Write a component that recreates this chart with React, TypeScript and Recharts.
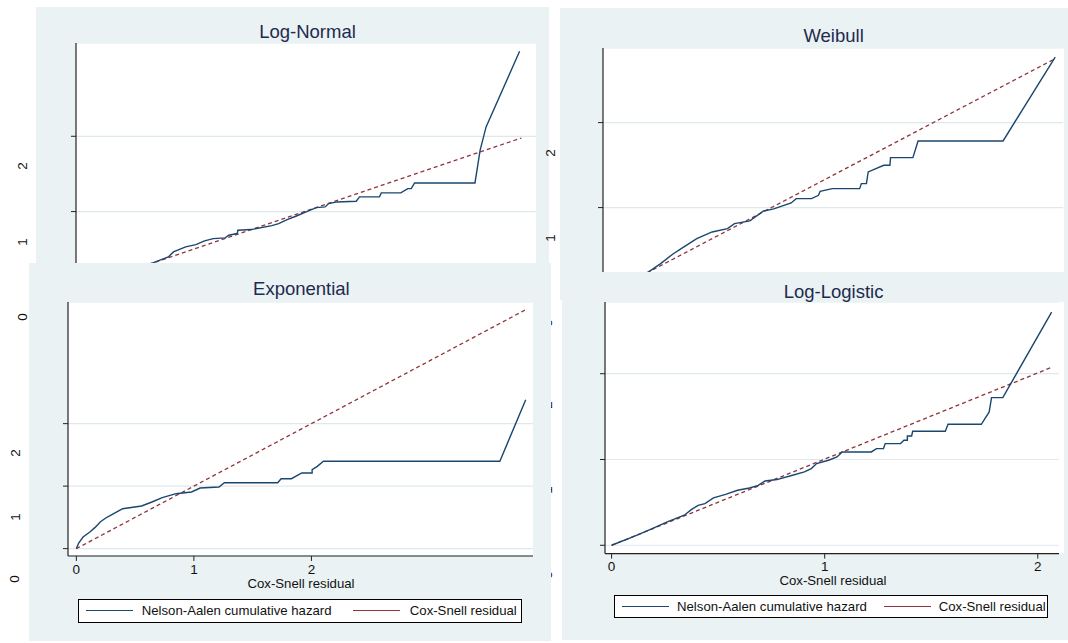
import { LineChart, Line, XAxis, YAxis, CartesianGrid } from "recharts";

const FONT = '"Liberation Sans", Arial, Helvetica, sans-serif';
const BG = "#eaf2f3";
const NAVY = "#1a476f";
const MAROON = "#90353b";
const GRID = "#dfe9ec";
const TITLE = "#1e2a4f";

const axisTicks = [0, 1, 2];
const legendNames = ["Nelson-Aalen cumulative hazard", "Cox-Snell residual"];
const xAxisTitle = "Cox-Snell residual";
const panelTitles = ["Log-Normal", "Weibull", "Exponential", "Log-Logistic"];

// stray rotated y labels left over in the collage
const logNormalYLabels = ["2", "1"];
const weibullYLabels = ["2", "1"];
const logLogisticYLabels = ["0", "2", "1", "0"];
const exponentialYLabels = ["0", "2", "1", "0"];

// Log-Normal: Nelson-Aalen cumulative hazard vs Cox-Snell residual
const logNormalHazard = [
  { x: 0, y: 0 }, { x: 0.1, y: 0.12 }, { x: 0.2, y: 0.22 }, { x: 0.317, y: 0.318 },
  { x: 0.387, y: 0.398 }, { x: 0.41, y: 0.464 }, { x: 0.465, y: 0.531 }, { x: 0.511, y: 0.561 },
  { x: 0.55, y: 0.61 }, { x: 0.589, y: 0.641 }, { x: 0.643, y: 0.65 }, { x: 0.659, y: 0.686 },
  { x: 0.697, y: 0.708 }, { x: 0.7, y: 0.752 }, { x: 0.76, y: 0.761 }, { x: 0.853, y: 0.814 },
  { x: 0.884, y: 0.84 }, { x: 0.922, y: 0.893 }, { x: 0.961, y: 0.938 }, { x: 1.023, y: 1.017 },
  { x: 1.054, y: 1.053 }, { x: 1.093, y: 1.062 }, { x: 1.109, y: 1.106 }, { x: 1.147, y: 1.128 },
  { x: 1.233, y: 1.137 }, { x: 1.248, y: 1.195 }, { x: 1.338, y: 1.195 }, { x: 1.346, y: 1.248 },
  { x: 1.434, y: 1.248 }, { x: 1.465, y: 1.305 }, { x: 1.481, y: 1.305 }, { x: 1.496, y: 1.38 },
  { x: 1.768, y: 1.38 }, { x: 1.791, y: 1.814 }, { x: 1.818, y: 2.124 }, { x: 1.969, y: 3.129 },
];
const logNormalResidual = [{ x: 0, y: 0 }, { x: 1.977, y: 1.977 }];

// Weibull
const weibullHazard = [
  { x: 0, y: 0 }, { x: 0.12, y: 0.13 }, { x: 0.242, y: 0.243 }, { x: 0.316, y: 0.341 },
  { x: 0.39, y: 0.451 }, { x: 0.443, y: 0.517 }, { x: 0.539, y: 0.635 }, { x: 0.634, y: 0.713 },
  { x: 0.729, y: 0.752 }, { x: 0.772, y: 0.811 }, { x: 0.867, y: 0.843 }, { x: 0.952, y: 0.96 },
  { x: 1.015, y: 0.984 }, { x: 1.122, y: 1.054 }, { x: 1.153, y: 1.105 }, { x: 1.248, y: 1.105 },
  { x: 1.291, y: 1.145 }, { x: 1.301, y: 1.192 }, { x: 1.376, y: 1.223 }, { x: 1.545, y: 1.223 },
  { x: 1.556, y: 1.282 }, { x: 1.587, y: 1.282 }, { x: 1.598, y: 1.419 }, { x: 1.694, y: 1.498 },
  { x: 1.732, y: 1.498 }, { x: 1.736, y: 1.588 }, { x: 1.874, y: 1.588 }, { x: 1.906, y: 1.784 },
  { x: 2.431, y: 1.784 }, { x: 2.753, y: 2.772 },
];
const weibullResidual = [{ x: 0, y: 0 }, { x: 2.753, y: 2.753 }];

// Exponential
const exponentialHazard = [
  { x: 0, y: 0 }, { x: 0.02, y: 0.09 }, { x: 0.057, y: 0.186 }, { x: 0.115, y: 0.266 },
  { x: 0.16, y: 0.34 }, { x: 0.203, y: 0.426 }, { x: 0.25, y: 0.49 }, { x: 0.291, y: 0.533 },
  { x: 0.379, y: 0.623 }, { x: 0.394, y: 0.639 }, { x: 0.555, y: 0.682 },
  { x: 0.643, y: 0.746 }, { x: 0.731, y: 0.815 }, { x: 0.848, y: 0.879 }, { x: 0.98, y: 0.906 },
  { x: 1.053, y: 0.97 }, { x: 1.214, y: 0.986 }, { x: 1.259, y: 1.055 }, { x: 1.713, y: 1.055 },
  { x: 1.742, y: 1.119 }, { x: 1.83, y: 1.119 }, { x: 1.918, y: 1.21 }, { x: 2.006, y: 1.21 },
  { x: 2.006, y: 1.263 }, { x: 2.05, y: 1.317 }, { x: 2.102, y: 1.397 }, { x: 3.603, y: 1.397 },
  { x: 3.823, y: 2.383 },
];
const exponentialResidual = [{ x: 0, y: 0 }, { x: 3.823, y: 3.823 }];

// Log-Logistic
const logLogisticHazard = [
  { x: 0, y: 0 }, { x: 0.1, y: 0.097 }, { x: 0.18, y: 0.183 }, { x: 0.261, y: 0.272 },
  { x: 0.341, y: 0.35 }, { x: 0.374, y: 0.416 }, { x: 0.406, y: 0.466 }, { x: 0.438, y: 0.486 },
  { x: 0.478, y: 0.552 }, { x: 0.535, y: 0.594 }, { x: 0.591, y: 0.641 }, { x: 0.647, y: 0.668 },
  { x: 0.688, y: 0.699 }, { x: 0.72, y: 0.75 }, { x: 0.776, y: 0.766 }, { x: 0.849, y: 0.816 },
  { x: 0.905, y: 0.855 }, { x: 0.937, y: 0.894 }, { x: 0.962, y: 0.952 }, { x: 1.018, y: 0.991 },
  { x: 1.058, y: 1.029 }, { x: 1.082, y: 1.088 }, { x: 1.219, y: 1.088 }, { x: 1.243, y: 1.127 },
  { x: 1.276, y: 1.127 }, { x: 1.284, y: 1.185 }, { x: 1.356, y: 1.185 }, { x: 1.372, y: 1.224 },
  { x: 1.388, y: 1.224 }, { x: 1.388, y: 1.274 }, { x: 1.408, y: 1.274 }, { x: 1.413, y: 1.329 },
  { x: 1.566, y: 1.329 }, { x: 1.579, y: 1.41 }, { x: 1.735, y: 1.41 }, { x: 1.772, y: 1.554 },
  { x: 1.783, y: 1.721 }, { x: 1.836, y: 1.721 }, { x: 2.065, y: 2.719 },
];
const logLogisticResidual = [{ x: 0, y: 0 }, { x: 2.062, y: 2.071 }];

type Pt = { x: number; y: number };
type Box = { l: number; t: number; r: number; b: number };

const Y_AXIS_W = 6;
const X_AXIS_H = 30;

function abs(l: number, t: number, w: number, h: number, extra: object = {}) {
  return { position: "absolute" as const, left: l, top: t, width: w, height: h, ...extra };
}

function Plot(props: {
  plot: Box;
  xDomain: [number, number];
  yDomain: [number, number];
  hazard: Pt[];
  residual: Pt[];
  showX: boolean;
}) {
  const { plot, xDomain, yDomain, hazard, residual, showX } = props;
  const w = plot.r - plot.l;
  const h = plot.b - plot.t;
  return (
    <div style={{ position: "absolute", left: plot.l - Y_AXIS_W, top: plot.t }}>
      <LineChart
        width={w + Y_AXIS_W}
        height={h + (showX ? X_AXIS_H : 0)}
        margin={{ top: 0, right: 0, bottom: 0, left: 0 }}
      >
        <CartesianGrid vertical={false} stroke={GRID} strokeWidth={1.2} />
        <XAxis
          type="number"
          dataKey="x"
          domain={xDomain}
          ticks={axisTicks}
          interval={0}
          allowDataOverflow
          hide={!showX}
          height={showX ? X_AXIS_H : 0}
          axisLine={{ stroke: "#222", strokeWidth: 1.2 }}
          tickLine={{ stroke: "#222" }}
          tickSize={5}
          tickMargin={3}
          tick={{ fill: "#111", fontSize: 13.5, fontFamily: FONT }}
        />
        <YAxis
          type="number"
          dataKey="y"
          domain={yDomain}
          ticks={axisTicks}
          interval={0}
          allowDataOverflow
          width={Y_AXIS_W}
          axisLine={{ stroke: "#222", strokeWidth: 1.2 }}
          tickLine={{ stroke: "#222" }}
          tickSize={5}
          tickFormatter={() => ""}
        />
        <Line
          data={residual}
          dataKey="y"
          type="linear"
          stroke={MAROON}
          strokeWidth={1.3}
          strokeDasharray="4 3"
          dot={false}
          isAnimationActive={false}
        />
        <Line
          data={hazard}
          dataKey="y"
          type="linear"
          stroke={NAVY}
          strokeWidth={1.4}
          dot={false}
          isAnimationActive={false}
        />
      </LineChart>
    </div>
  );
}

function Panel(props: {
  title: string;
  titleAt: [number, number];
  bg: Box;
  white: Box;
  plot: Box;
  xDomain: [number, number];
  yDomain: [number, number];
  hazard: Pt[];
  residual: Pt[];
  showX?: boolean;
  xTitleAt?: [number, number];
  legend?: { box: Box; s1: number; t1: number; s2: number; t2: number };
}) {
  const { title, titleAt, bg, white, legend, xTitleAt } = props;
  return (
    <>
      <div style={abs(bg.l, bg.t, bg.r - bg.l, bg.b - bg.t, { background: BG })} />
      <div
        style={abs(titleAt[0] - 150, titleAt[1] - 11, 300, 22, {
          textAlign: "center",
          lineHeight: "22px",
          fontSize: 18.5,
          fontFamily: FONT,
          color: TITLE,
        })}
      >
        {title}
      </div>
      <div style={abs(white.l, white.t, white.r - white.l, white.b - white.t, { background: "#fff" })} />
      <Plot
        plot={props.plot}
        xDomain={props.xDomain}
        yDomain={props.yDomain}
        hazard={props.hazard}
        residual={props.residual}
        showX={!!props.showX}
      />
      {xTitleAt && (
        <div
          style={abs(xTitleAt[0] - 100, xTitleAt[1] - 8, 200, 16, {
            textAlign: "center",
            lineHeight: "16px",
            fontSize: 13.2,
            fontFamily: FONT,
            color: "#111",
          })}
        >
          {xAxisTitle}
        </div>
      )}
      {legend && (
        <div
          style={abs(legend.box.l, legend.box.t, legend.box.r - legend.box.l, legend.box.b - legend.box.t, {
            background: "#fff",
            border: "1px solid #000",
            boxSizing: "border-box",
            fontFamily: FONT,
            fontSize: 13.2,
            color: "#111",
          })}
        >
          <div style={abs(legend.s1, 10, 47, 0, { borderTop: `1.4px solid ${NAVY}` })} />
          <div style={{ position: "absolute", left: legend.t1, top: 0, lineHeight: "22px", whiteSpace: "nowrap" }}>
            {legendNames[0]}
          </div>
          <div style={abs(legend.s2, 10, 47, 0, { borderTop: `1.4px solid ${MAROON}` })} />
          <div style={{ position: "absolute", left: legend.t2, top: 0, lineHeight: "22px", whiteSpace: "nowrap" }}>
            {legendNames[1]}
          </div>
        </div>
      )}
    </>
  );
}

function RotLabels(props: { labels: string[]; at: [number, number][] }) {
  return (
    <>
      {props.labels.map((s, i) => (
        <div
          key={i}
          style={abs(props.at[i][0] - 10, props.at[i][1] - 10, 20, 20, {
            textAlign: "center",
            lineHeight: "20px",
            fontSize: 13.5,
            fontFamily: FONT,
            color: "#111",
            transform: "rotate(-90deg)",
          })}
        >
          {s}
        </div>
      ))}
    </>
  );
}

export default function App() {
  return (
    <div
      style={{
        position: "absolute",
        left: 0,
        top: 0,
        width: 1068,
        height: 643,
        background: "#fff",
        overflow: "hidden",
      }}
    >
      <Panel
        title={panelTitles[0]}
        titleAt={[307.5, 31.7]}
        bg={{ l: 36, t: 7, r: 549, b: 300 }}
        white={{ l: 76.4, t: 42.7, r: 536, b: 300 }}
        plot={{ l: 76.4, t: 42.7, r: 536, b: 295 }}
        xDomain={[-0.029, 2.041]}
        yDomain={[-0.112, 3.239]}
        hazard={logNormalHazard}
        residual={logNormalResidual}
      />
      <Panel
        title={panelTitles[1]}
        titleAt={[833.6, 36]}
        bg={{ l: 560, t: 8.3, r: 1068, b: 300 }}
        white={{ l: 602.7, t: 47.7, r: 1064, b: 300 }}
        plot={{ l: 602.7, t: 47.7, r: 1063, b: 296 }}
        xDomain={[-0.04, 2.803]}
        yDomain={[-0.044, 2.878]}
        hazard={weibullHazard}
        residual={weibullResidual}
      />
      <RotLabels labels={logNormalYLabels} at={[[23.3, 165.7], [23.3, 241.7]]} />
      <RotLabels labels={weibullYLabels} at={[[550.5, 153.3], [550.5, 238.3]]} />
      <RotLabels
        labels={logLogisticYLabels}
        at={[[548, 323.3], [548, 405], [548, 490], [548, 575]]}
      />
      <Panel
        title={panelTitles[2]}
        titleAt={[301.4, 289.3]}
        bg={{ l: 29, t: 263.3, r: 550.7, b: 641 }}
        white={{ l: 67.7, t: 301.7, r: 533.3, b: 555.7 }}
        plot={{ l: 67.7, t: 301.7, r: 533.3, b: 555.7 }}
        xDomain={[-0.071, 3.89]}
        yDomain={[-0.118, 3.946]}
        hazard={exponentialHazard}
        residual={exponentialResidual}
        showX
        xTitleAt={[301, 584]}
        legend={{ box: { l: 78.4, t: 599, r: 522.5, b: 623.3 }, s1: 6.6, t1: 62.3, s2: 273.6, t2: 330.4 }}
      />
      <Panel
        title={panelTitles[3]}
        titleAt={[833.6, 292.3]}
        bg={{ l: 561.7, t: 271.7, r: 1068, b: 640 }}
        white={{ l: 605, t: 301.7, r: 1064, b: 553.3 }}
        plot={{ l: 605, t: 301.7, r: 1059.3, b: 553.3 }}
        xDomain={[-0.031, 2.101]}
        yDomain={[-0.097, 2.836]}
        hazard={logLogisticHazard}
        residual={logLogisticResidual}
        showX
        xTitleAt={[833, 581]}
        legend={{ box: { l: 614, t: 595, r: 1048.3, b: 618.3 }, s1: 6.7, t1: 62, s2: 268.7, t2: 323.7 }}
      />
      <RotLabels
        labels={exponentialYLabels}
        at={[[23.3, 316.7], [15.5, 453.3], [15.5, 516.7], [15, 579.3]]}
      />
    </div>
  );
}
